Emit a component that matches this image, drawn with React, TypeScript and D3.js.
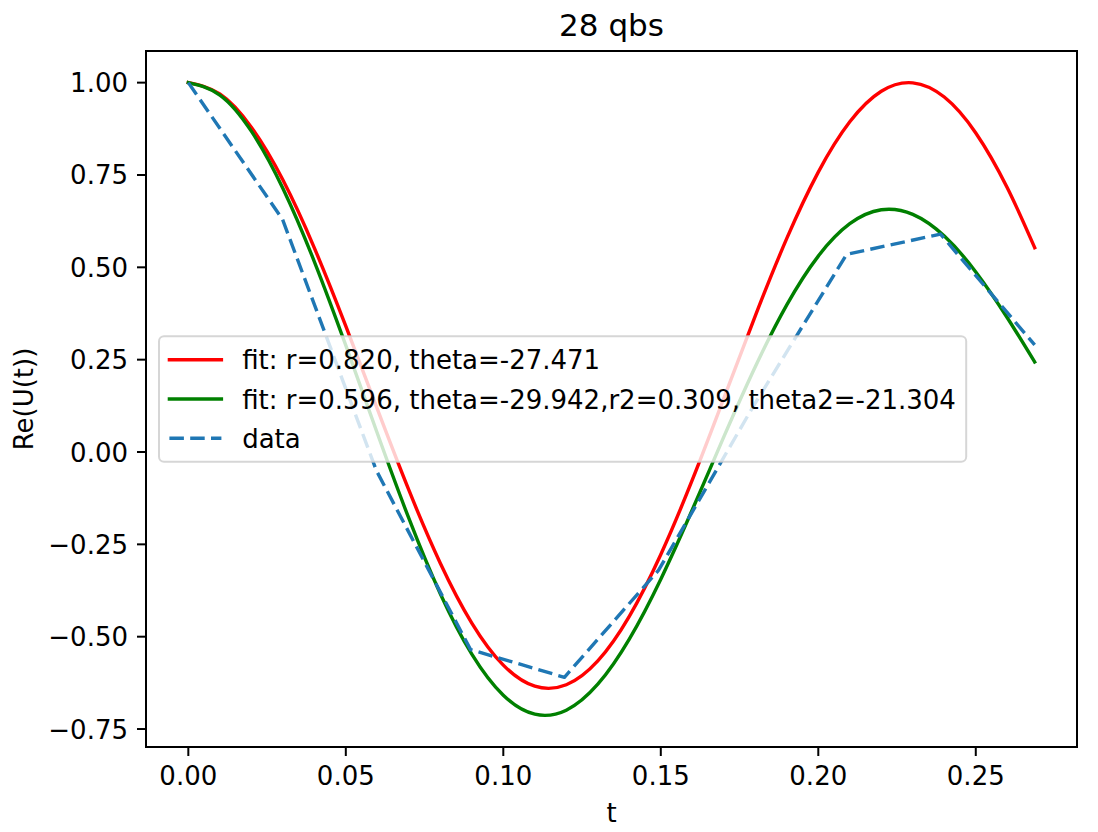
import React from "react";
import * as d3 from "d3";

// ---- data ----
const chartTitle = "28 qbs";
const xLabel = "t";
const yLabel = "Re(U(t))";

const tData = [0, 0.0299, 0.0597, 0.0896, 0.1194, 0.1493, 0.1791, 0.209, 0.2388, 0.2687];
const reData = [1.0, 0.63, -0.05, -0.535, -0.61, -0.32, 0.12, 0.535, 0.59, 0.29];

const tFit = [0, 0.01, 0.02, 0.03, 0.04, 0.05, 0.06, 0.07, 0.08, 0.09, 0.1, 0.11, 0.12, 0.13, 0.14, 0.15, 0.16, 0.17, 0.18, 0.19, 0.2, 0.21, 0.22, 0.23, 0.24, 0.25, 0.26, 0.2687];
const redFit = [1.0, 0.9693, 0.8793, 0.7369, 0.5528, 0.3407, 0.1166, -0.1028, -0.301, -0.4631, -0.577, -0.6341, -0.6302, -0.5655, -0.4449, -0.2774, -0.0756, 0.1453, 0.3688, 0.5782, 0.7578, 0.8939, 0.9766, 0.9995, 0.961, 0.8638, 0.7155, 0.5532];
const greenFit = [1.0, 0.9665, 0.8687, 0.7143, 0.5157, 0.2885, 0.0507, -0.1793, -0.3838, -0.5474, -0.6586, -0.7098, -0.6989, -0.6286, -0.5065, -0.3443, -0.1564, 0.0408, 0.2308, 0.3983, 0.5304, 0.618, 0.6558, 0.6433, 0.5846, 0.4876, 0.3635, 0.2436];
// extremes of the fitted curves
const fitMin = -0.713;
const fitMax = 1.0;

const xTicks = [0, 0.05, 0.1, 0.15, 0.2, 0.25];
const yTicks = [-0.75, -0.5, -0.25, 0, 0.25, 0.5, 0.75, 1.0];

const legendLabels = [
  "fit: r=0.820, theta=-27.471",
  "fit: r=0.596, theta=-29.942,r2=0.309, theta2=-21.304",
  "data",
];

// ---- layout / style ----
const W = 1098;
const H = 832;
const M = { left: 146, right: 1077, top: 51, bottom: 747 };
const FONT = "DejaVu Sans, sans-serif";
const FS = 26;
const LW = 3.4;

export default function App() {
  const pad = (ext: [number, number]) => {
    const d = (ext[1] - ext[0]) * 0.05;
    return [ext[0] - d, ext[1] + d];
  };
  const xExt = d3.extent([...tData, ...tFit]) as [number, number];
  const yExt = d3.extent([...reData, ...redFit, ...greenFit, fitMin, fitMax]) as [number, number];
  const x = d3.scaleLinear().domain(pad(xExt)).range([M.left, M.right]);
  const y = d3.scaleLinear().domain(pad(yExt)).range([M.bottom, M.top]);

  const smooth = d3
    .line<[number, number]>()
    .x((d) => x(d[0]))
    .y((d) => y(d[1]))
    .curve(d3.curveNatural);
  const straight = d3
    .line<[number, number]>()
    .x((d) => x(d[0]))
    .y((d) => y(d[1]));

  const redPts = tFit.map((t, i) => [t, redFit[i]] as [number, number]);
  const greenPts = tFit.map((t, i) => [t, greenFit[i]] as [number, number]);
  const dataPts = tData.map((t, i) => [t, reData[i]] as [number, number]);

  const fx = d3.format(".2f");
  const tickLen = 9;
  const tickPad = 9;

  // legend geometry (matplotlib-like, in font units)
  const borderPad = 0.4 * FS;
  const handleLen = 2 * FS;
  const handleTextPad = 0.8 * FS;
  const labelSpacing = 0.5 * FS;
  const rowH = 26.3;
  const textW = 713.6;
  const legW = borderPad * 2 + handleLen + handleTextPad + textW;
  const legH = borderPad * 2 + rowH * 3 + labelSpacing * 2;
  const legX = M.left + 0.5 * FS;
  const legY = (M.top + M.bottom) / 2 - legH / 2;
  const legStyles = [
    { color: "#ff0000", dash: undefined as string | undefined, cap: "square" },
    { color: "#008000", dash: undefined, cap: "square" },
    { color: "#1f77b4", dash: "14.5 6.3", cap: "butt" },
  ];

  return (
    <svg
      width={W}
      height={H}
      style={{ position: "absolute", left: 0, top: 0, background: "#fff" }}
      fontFamily={FONT}
    >
      <rect x={0} y={0} width={W} height={H} fill="#fff" />
      <defs>
        <clipPath id="plotclip">
          <rect x={M.left} y={M.top} width={M.right - M.left} height={M.bottom - M.top} />
        </clipPath>
      </defs>
      <g clipPath="url(#plotclip)" fill="none" strokeLinejoin="round">
        <path d={smooth(redPts) || ""} stroke="#ff0000" strokeWidth={LW} strokeLinecap="square" />
        <path d={smooth(greenPts) || ""} stroke="#008000" strokeWidth={LW} strokeLinecap="square" />
        <path
          d={straight(dataPts) || ""}
          stroke="#1f77b4"
          strokeWidth={LW}
          strokeDasharray="14.5 6.3"
          strokeLinecap="butt"
        />
      </g>

      {/* frame */}
      <rect
        x={M.left}
        y={M.top}
        width={M.right - M.left}
        height={M.bottom - M.top}
        fill="none"
        stroke="#000"
        strokeWidth={2}
      />

      {/* x ticks */}
      {xTicks.map((v) => (
        <g key={"x" + v}>
          <line x1={x(v)} x2={x(v)} y1={M.bottom} y2={M.bottom + tickLen} stroke="#000" strokeWidth={2} />
          <text
            x={x(v)}
            y={M.bottom + tickLen + tickPad + 19.5}
            textAnchor="middle"
            fontSize={FS}
            fill="#000"
          >
            {fx(v)}
          </text>
        </g>
      ))}
      {/* y ticks */}
      {yTicks.map((v) => (
        <g key={"y" + v}>
          <line x1={M.left - tickLen} x2={M.left} y1={y(v)} y2={y(v)} stroke="#000" strokeWidth={2} />
          <text
            x={M.left - tickLen - tickPad}
            y={y(v) + 9.5}
            textAnchor="end"
            fontSize={FS}
            fill="#000"
          >
            {fx(v)}
          </text>
        </g>
      ))}

      {/* labels */}
      <text x={(M.left + M.right) / 2} y={36} textAnchor="middle" fontSize={31} fill="#000">
        {chartTitle}
      </text>
      <text x={(M.left + M.right) / 2} y={822} textAnchor="middle" fontSize={FS} fill="#000">
        {xLabel}
      </text>
      <text
        transform={`translate(33,${(M.top + M.bottom) / 2}) rotate(-90)`}
        textAnchor="middle"
        fontSize={FS}
        fill="#000"
      >
        {yLabel}
      </text>

      {/* legend */}
      <g>
        <rect
          x={legX}
          y={legY}
          width={legW}
          height={legH}
          rx={5}
          ry={5}
          fill="#fff"
          fillOpacity={0.8}
          stroke="#cccccc"
          strokeOpacity={0.8}
          strokeWidth={2}
        />
        {legendLabels.map((lab, i) => {
          const cy = legY + borderPad + rowH / 2 + i * (rowH + labelSpacing);
          const s = legStyles[i];
          return (
            <g key={lab}>
              <line
                x1={legX + borderPad}
                x2={legX + borderPad + handleLen}
                y1={cy}
                y2={cy}
                stroke={s.color}
                strokeWidth={LW}
                strokeDasharray={s.dash}
                strokeLinecap={s.cap as any}
              />
              <text
                x={legX + borderPad + handleLen + handleTextPad}
                y={cy + 9.5}
                fontSize={FS}
                fill="#000"
              >
                {lab}
              </text>
            </g>
          );
        })}
      </g>
    </svg>
  );
}
